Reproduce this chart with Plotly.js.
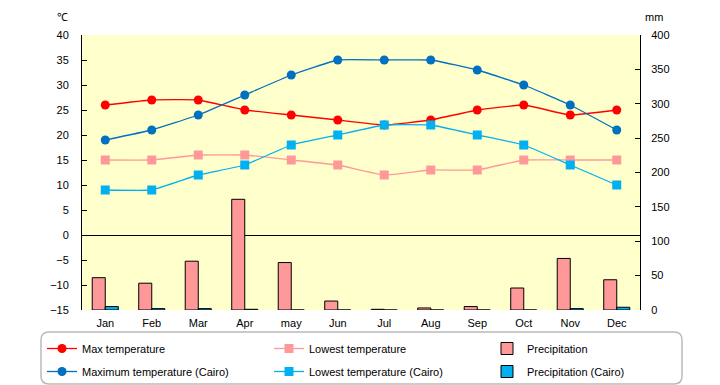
<!DOCTYPE html>
<html><head><meta charset="utf-8">
<script src="https://cdn.plot.ly/plotly-3.0.1.min.js"></script>
<style>body{margin:0;background:#fff}#c{width:720px;height:385px}</style>
</head><body><div id="c"></div>
<script>
const months = ["Jan","Feb","Mar","Apr","may","Jun","Jul","Aug","Sep","Oct","Nov","Dec"];
const maxTemp = [26,27,27,25,24,23,22,23,25,26,24,25];
const lowTemp = [15,15,16,16,15,14,12,13,13,15,15,15];
const precip = [47,39,71,161,69,13,1,3,5,32,75,44];
const maxCairo = [19,21,24,28,32,35,35,35,33,30,26,21];
const lowCairo = [9,9,12,14,18,20,22,22,20,18,14,10];
const precipCairo = [5,2,2,1,0,0,0,0,0,0,2,4];

const F = "Liberation Sans, Arial, sans-serif";
const line = (name, y, color, symbol, size, leg) => ({
  type:"scatter", mode:"lines+markers", name, x:months, y, yaxis:"y2", legend:leg,
  line:{color, width:1.3, shape:"spline", smoothing:0.3},
  marker:{color, symbol, size}
});
const bar = (name, y, color, leg) => ({
  type:"bar", name, x:months, y, legend:leg,
  marker:{color, line:{color:"#000", width:1}}
});
const traces = [
  bar("Precipitation", precip, "#FF9999", "legend3"),
  bar("Precipitation (Cairo)", precipCairo, "#00B0F0", "legend6"),
  line("Max temperature", maxTemp, "#FF0000", "circle", 9, "legend"),
  line("Lowest temperature", lowTemp, "#FF9999", "square", 9, "legend2"),
  line("Maximum temperature (Cairo)", maxCairo, "#0070C0", "circle", 9, "legend4"),
  line("Lowest temperature (Cairo)", lowCairo, "#00B0F0", "square", 9, "legend5")
];
const leg = (xpx, ytop) => ({orientation:"h", xref:"container", yref:"container",
  x:xpx/720, xanchor:"left", y:(385-ytop)/385, yanchor:"top",
  font:{family:F, size:11}, bgcolor:"rgba(0,0,0,0)"});
const layout = {
  width:720, height:385,
  margin:{l:82, r:80, t:35, b:75},
  paper_bgcolor:"#fff", plot_bgcolor:"#FFFFCC",
  font:{family:F, size:11, color:"#000"},
  barmode:"group", bargap:0.44, bargroupgap:0,
  showlegend:true,
  legend:leg(42, 334), legend2:leg(269, 334), legend3:leg(487, 334),
  legend4:leg(42, 357), legend5:leg(269, 357), legend6:leg(487, 357),
  xaxis:{type:"category", range:[-0.5, 11.5], showline:false, ticks:"", ticklabelstandoff:5,
    tickfont:{size:11}, showgrid:false, zeroline:false},
  yaxis:{side:"right", range:[0,400], dtick:50, showgrid:false, zeroline:false,
    showline:true, linecolor:"#000", linewidth:1, ticks:"inside", ticklen:5, tickcolor:"#000",
    ticklabelstandoff:8},
  yaxis2:{overlaying:"y", side:"left", range:[-15,40], dtick:5, showgrid:false,
    zeroline:true, zerolinecolor:"#000", zerolinewidth:1,
    showline:true, linecolor:"#000", linewidth:1, ticks:"inside", ticklen:5, tickcolor:"#000",
    ticklabelstandoff:10},
  annotations:[
    {text:"℃", xref:"paper", yref:"paper", x:-0.048, y:1.095, showarrow:false, font:{size:11}},
    {text:"mm", xref:"paper", yref:"paper", x:1.045, y:1.095, showarrow:false, font:{size:11}}
  ],
  shapes:[
    {type:"path", xref:"paper", yref:"paper", layer:"below",
     path:"M -0.0592 -0.08 L 1.061 -0.08 Q 1.0753 -0.08 1.0753 -0.109 L 1.0753 -0.2401 Q 1.0753 -0.2691 1.061 -0.2691 L -0.0592 -0.2691 Q -0.0735 -0.2691 -0.0735 -0.2401 L -0.0735 -0.109 Q -0.0735 -0.08 -0.0592 -0.08 Z",
     line:{color:"#BBBBBB", width:1.5}}
  ]
};
Plotly.newPlot("c", traces, layout, {staticPlot:true});
</script></body></html>
